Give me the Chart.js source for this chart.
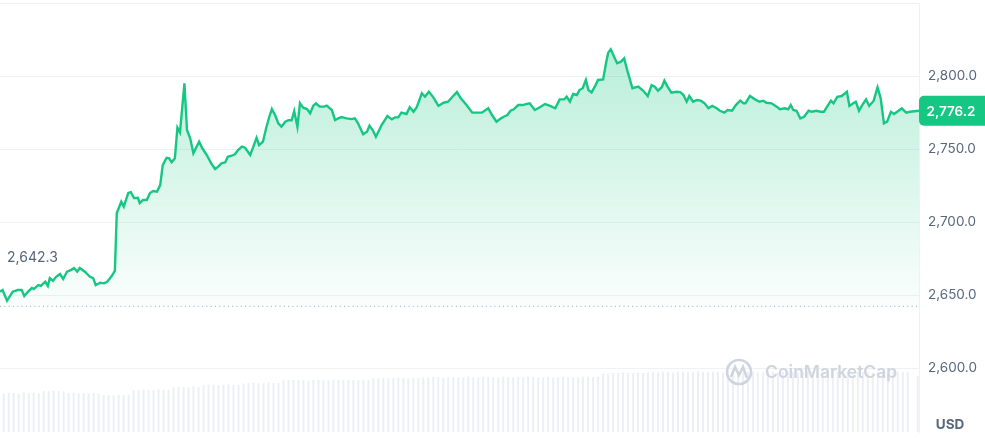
<!DOCTYPE html>
<html>
<head>
<meta charset="utf-8">
<script src="https://cdn.jsdelivr.net/npm/chart.js@4.4.1/dist/chart.umd.min.js"></script>
<style>
  html, body { margin: 0; padding: 0; background: #fff; }
  .chart-wrap { width: 985px; height: 439px; position: relative; }
</style>
</head>
<body>
<div class="chart-wrap"><canvas id="priceChart"></canvas></div>
<script>
// Price data (minutes since start of 24h window, USD)
const times = [
  0, 4, 11, 20, 28, 34, 38, 44, 50, 53,
  60, 64, 71, 75, 78, 83, 88, 94, 99, 105,
  111, 116, 121, 125, 133, 141, 146, 150, 157, 163,
  168, 175, 180, 183, 190, 194, 201, 205, 210, 216,
  219, 224, 230, 235, 240, 246, 251, 255, 261, 265,
  269, 274, 278, 282, 289, 293, 298, 303, 308, 312,
  317, 324, 331, 337, 342, 347, 353, 357, 363, 368,
  373, 379, 384, 392, 397, 402, 406, 412, 417, 422,
  426, 431, 436, 441, 447, 452, 457, 461, 466, 470,
  475, 481, 486, 491, 495, 501, 508, 512, 520, 525,
  530, 535, 543, 551, 556, 561, 569, 575, 579, 584,
  589, 598, 607, 614, 619, 624, 629, 637, 642, 648,
  653, 661, 666, 672, 679, 687, 695, 702, 709, 716,
  722, 731, 740, 747, 755, 765, 771, 778, 785, 790,
  795, 800, 805, 812, 819, 824, 830, 838, 846, 854,
  862, 870, 877, 884, 888, 893, 898, 904, 908, 913,
  918, 922, 927, 932, 937, 945, 950, 953, 957, 961,
  967, 973, 978, 984, 991, 1000, 1008, 1015, 1021, 1026,
  1031, 1037, 1041, 1046, 1052, 1060, 1066, 1071, 1076, 1080,
  1086, 1092, 1098, 1104, 1110, 1116, 1123, 1128, 1135, 1140,
  1147, 1153, 1160, 1165, 1168, 1175, 1183, 1190, 1196, 1201,
  1209, 1217, 1222, 1230, 1235, 1239, 1243, 1248, 1254, 1260,
  1267, 1272, 1279, 1286, 1291, 1296, 1302, 1306, 1312, 1319,
  1327, 1331, 1337, 1341, 1346, 1352, 1357, 1362, 1369, 1375,
  1380, 1385, 1390, 1396, 1401, 1408, 1413, 1420, 1426, 1440
];
const prices = [
  2652.3, 2653.4, 2646.1, 2652.3, 2653.4, 2653.4, 2649.3, 2652.3, 2654.8, 2654.1,
  2656.8, 2656.2, 2659.1, 2656.2, 2661.6, 2659.8, 2662.5, 2664.4, 2661.0, 2666.0,
  2667.1, 2668.5, 2666.0, 2668.5, 2666.0, 2662.5, 2661.6, 2656.8, 2658.4, 2658.0,
  2659.1, 2663.0, 2666.6, 2706.2, 2713.9, 2710.5, 2719.9, 2720.5, 2716.4, 2716.6,
  2713.0, 2715.1, 2715.1, 2719.9, 2721.2, 2720.8, 2725.3, 2739.0, 2744.0, 2743.6,
  2740.9, 2743.6, 2764.6, 2761.4, 2795.0, 2763.0, 2757.3, 2747.1, 2751.6, 2755.0,
  2750.5, 2745.9, 2740.2, 2736.3, 2737.9, 2740.2, 2740.9, 2744.7, 2745.4, 2746.4,
  2749.3, 2751.6, 2750.9, 2745.9, 2751.6, 2757.7, 2752.7, 2755.0, 2764.2, 2772.1,
  2777.4, 2773.3, 2767.6, 2765.3, 2768.7, 2769.7, 2769.7, 2776.0, 2765.3, 2781.3,
  2778.3, 2777.4, 2774.5, 2779.7, 2781.3, 2779.0, 2779.0, 2779.7, 2776.7, 2769.9,
  2771.0, 2771.9, 2771.0, 2770.5, 2771.0, 2767.6, 2760.1, 2761.8, 2766.0, 2763.0,
  2758.4, 2766.4, 2772.6, 2770.3, 2771.7, 2771.7, 2774.9, 2774.0, 2778.6, 2775.5,
  2778.6, 2788.2, 2785.8, 2789.2, 2785.4, 2779.5, 2781.7, 2782.4, 2785.8, 2789.0,
  2784.7, 2780.1, 2774.9, 2774.9, 2774.9, 2777.9, 2773.3, 2768.7, 2771.0, 2772.3,
  2773.3, 2776.2, 2777.2, 2780.1, 2780.1, 2780.8, 2781.3, 2776.7, 2778.6, 2780.8,
  2779.5, 2777.9, 2784.0, 2784.0, 2785.8, 2782.4, 2787.7, 2787.0, 2790.4, 2791.6,
  2797.3, 2790.4, 2788.8, 2792.7, 2797.3, 2797.7, 2809.8, 2816.0, 2818.3, 2814.4,
  2808.7, 2809.8, 2812.1, 2802.1, 2791.6, 2792.7, 2789.9, 2786.3, 2793.8, 2792.7,
  2789.9, 2792.3, 2796.8, 2792.7, 2788.6, 2789.2, 2789.0, 2787.0, 2782.4, 2786.3,
  2782.4, 2783.6, 2783.1, 2781.3, 2777.9, 2779.5, 2777.9, 2776.2, 2774.9, 2776.7,
  2776.2, 2780.1, 2783.1, 2781.3, 2781.3, 2786.3, 2784.0, 2782.4, 2783.1, 2781.7,
  2781.3, 2779.0, 2777.2, 2777.9, 2777.2, 2780.1, 2776.7, 2776.2, 2771.0, 2772.1,
  2776.2, 2775.5, 2776.2, 2775.5, 2775.5, 2779.0, 2783.1, 2781.3, 2785.8, 2786.3,
  2789.2, 2779.5, 2781.3, 2782.4, 2776.2, 2780.8, 2784.0, 2779.5, 2783.1, 2792.3,
  2784.7, 2767.6, 2768.7, 2775.5, 2774.0, 2776.2, 2777.9, 2774.9, 2775.5, 2776.2
];

// 24h volume bars (billions USD)
const volumes = [
  12.9, 13.1, 13.0, 12.8, 13.2, 13.0, 13.1, 12.9,
  13.7, 13.6, 13.8, 13.7, 13.5,
  13.0, 13.1, 12.9, 13.0, 12.8, 13.0, 12.9,
  12.4, 12.3, 12.2, 12.4, 12.3, 12.5,
  13.9, 14.0, 14.1, 13.9, 14.0, 14.2, 14.0, 14.1,
  14.9, 15.0, 15.1, 14.9, 15.2, 15.0,
  15.6, 15.7, 15.8, 15.6, 15.7, 15.9, 15.7, 15.8,
  16.2, 16.3, 16.4, 16.2, 16.3, 16.5, 16.3, 16.4,
  17.2, 17.3, 17.4, 17.2, 17.3, 17.1, 17.3, 17.4, 17.2, 17.3, 17.5, 17.3, 17.2, 17.4, 17.3, 17.2, 17.4, 17.3,
  17.9, 18.0, 18.1, 17.9, 18.0, 18.2, 18.0, 17.9, 18.1, 18.0,
  18.3, 18.2, 18.4, 18.3, 18.1, 18.3, 18.4, 18.2, 18.3, 18.5, 18.3, 18.2, 18.4, 18.3, 18.3, 18.1, 18.4, 18.3,
  18.2, 18.4, 18.3, 18.5, 18.3, 18.2, 18.3, 18.4, 18.2, 18.3, 18.4, 18.3, 18.2, 18.3, 18.5, 18.4, 18.3, 18.4,
  19.5, 19.6, 19.7, 19.6, 19.8, 19.7, 19.6, 19.8, 19.7, 19.9,
  20.0, 19.9, 20.1, 20.0, 19.8, 20.0, 20.1, 19.9, 20.0, 20.2,
  20.0, 19.9, 20.1, 20.0, 19.9, 20.0, 20.1, 20.0, 19.8, 20.0,
  20.1, 19.9, 20.0, 20.2, 20.0, 19.9, 20.0, 20.1, 20.0, 19.9,
  20.0, 20.1, 19.9, 20.0, 20.2, 20.0, 19.9, 20.1, 20.0, 20.0,
  19.9, 20.1, 20.0, 20.0, 19.8, 20.0, 20.1, 19.9, 20.0, 20.1,
  20.0, 19.9,
  null, 18.7
];

const openPrice = 2642.3;
const tickValues = [2600, 2650, 2700, 2750, 2800];
const yMin = 2556.2;
const yMax = 2850;
const volMax = 143;

const GREEN = '#16c784';
const TEXT = '#58667e';
const GRID = '#eff2f5';

const fmt = v => v.toLocaleString('en-US', { minimumFractionDigits: 1, maximumFractionDigits: 1 });

// Overlay: open label, last price tag, USD, watermark
const overlays = {
    id: 'overlays',
    afterDatasetsDraw(chart) {
        const { ctx, chartArea, scales } = chart;
        ctx.save();

        // open price label
        const yOpen = scales.y.getPixelForValue(openPrice);
        ctx.font = '14px Inter';
        ctx.fillStyle = TEXT;
        ctx.textAlign = 'left';
        ctx.textBaseline = 'middle';
        ctx.fillText(fmt(openPrice), chartArea.left + 7, yOpen - 48);

        // watermark
        const wx = chartArea.right - 180;
        const wy = 372;
        ctx.strokeStyle = '#cfd5de';
        ctx.lineWidth = 2.6;
        ctx.beginPath();
        ctx.arc(wx, wy, 12, 0, Math.PI * 2);
        ctx.stroke();
        ctx.beginPath();
        ctx.moveTo(wx - 8, wy + 5);
        ctx.lineTo(wx - 4, wy - 5);
        ctx.lineTo(wx, wy + 3);
        ctx.lineTo(wx + 4, wy - 5);
        ctx.lineTo(wx + 8, wy + 6);
        ctx.stroke();
        ctx.font = '600 17.5px Inter';
        ctx.fillStyle = '#cfd5de';
        ctx.fillText('CoinMarketCap', wx + 26, wy + 1);

        // last price tag
        const last = prices[prices.length - 1];
        const yLast = scales.y.getPixelForValue(last);
        ctx.fillStyle = GREEN;
        ctx.beginPath();
        ctx.roundRect(chartArea.right, yLast - 15, 70, 30, 5);
        ctx.fill();
        ctx.fillStyle = '#fff';
        ctx.font = '600 13.5px Inter';
        ctx.textAlign = 'center';
        ctx.fillText(fmt(last), chartArea.right + 32, yLast + 1);

        // currency
        ctx.fillStyle = TEXT;
        ctx.font = 'bold 13.5px Inter';
        ctx.fillText('USD', chartArea.right + 31, 425);

        ctx.restore();
    }
};

const priceData = times.map((t, i) => ({ x: t, y: prices[i] }));
const openLine = [{ x: times[0], y: openPrice }, { x: times[times.length - 1], y: openPrice }];

const ctx = document.getElementById('priceChart').getContext('2d');
const priceChart = new Chart(ctx, {
    type: 'line',
    data: {
        datasets: [{
            label: 'Price',
            data: priceData,
            xAxisID: 'x',
            yAxisID: 'y',
            borderColor: GREEN,
            borderWidth: 2.4,
            tension: 0,
            pointRadius: 0,
            fill: { value: openPrice },
            backgroundColor: (context) => {
                const { ctx, chartArea, scales } = context.chart;
                if (!chartArea) return 'rgba(22,199,132,0.15)';
                const top = scales.y.getPixelForValue(2820);
                const bottom = scales.y.getPixelForValue(openPrice);
                const g = ctx.createLinearGradient(0, top, 0, bottom);
                g.addColorStop(0, 'rgba(22,199,132,0.30)');
                g.addColorStop(1, 'rgba(22,199,132,0.02)');
                return g;
            },
            order: 1
        }, {
            label: 'Open',
            data: openLine,
            xAxisID: 'x',
            yAxisID: 'y',
            borderColor: '#98a2b5',
            borderWidth: 1,
            borderDash: [1, 3.3],
            pointRadius: 0,
            fill: false,
            order: 2
        }, {
            type: 'bar',
            label: 'Volume',
            data: volumes,
            xAxisID: 'xv',
            yAxisID: 'yv',
            backgroundColor: 'rgba(207,214,228,0.4)',
            barPercentage: 0.8,
            categoryPercentage: 1,
            order: 3
        }]
    },
    options: {
        responsive: true,
        maintainAspectRatio: false,
        animation: false,
        layout: { padding: { top: 3, bottom: 7, left: 0, right: 0 } },
        scales: {
            x: { type: 'linear', min: 0, max: 1440, display: false },
            xv: {
                type: 'category',
                labels: volumes.map((_, i) => String(i)),
                display: false,
                offset: true
            },
            yv: { type: 'linear', min: 0, max: volMax, display: false },
            y: {
                position: 'right',
                min: yMin,
                max: yMax,
                afterBuildTicks: s => { s.ticks = tickValues.concat([yMax]).map(v => ({ value: v })); },
                afterFit: s => { s.width = 66; s.paddingTop = 0; s.paddingBottom = 0; },
                ticks: {
                    padding: 9,
                    color: TEXT,
                    font: { family: 'Inter', size: 13.5 },
                    callback: v => v === yMax ? '' : fmt(v)
                },
                grid: { color: GRID, drawTicks: false },
                border: { display: true, color: GRID }
            }
        },
        plugins: {
            legend: { display: false },
            tooltip: { enabled: false }
        }
    },
    plugins: [overlays]
});
</script>
</body>
</html>
